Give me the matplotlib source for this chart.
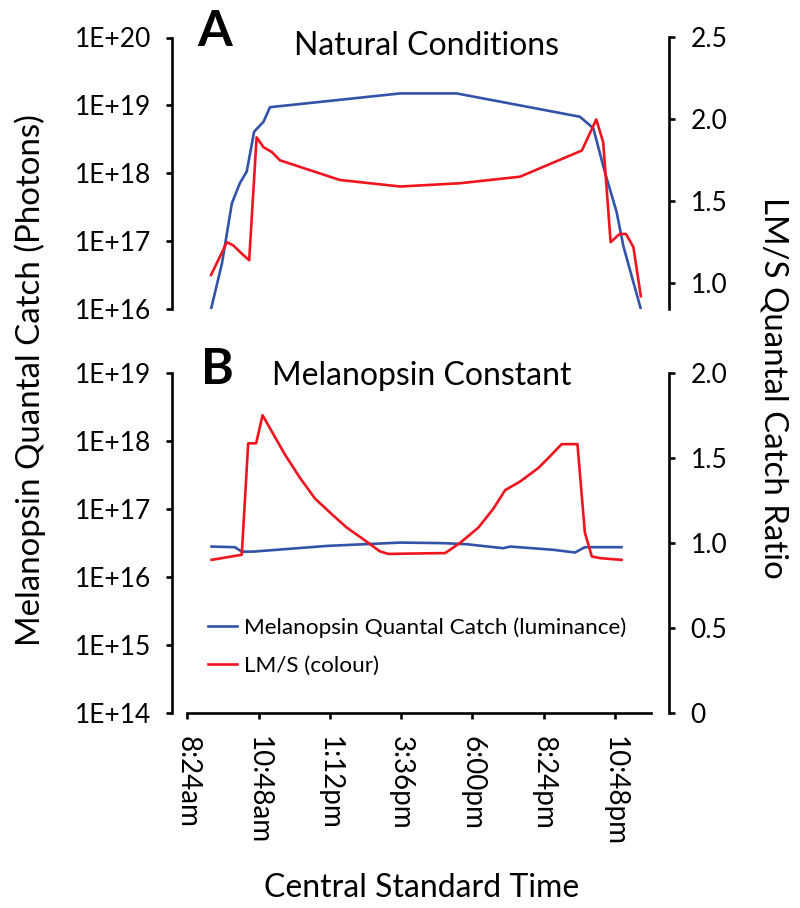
import matplotlib
matplotlib.use('Agg')
import matplotlib.pyplot as plt
from matplotlib.ticker import FixedLocator, NullLocator, NullFormatter

plt.rcParams['font.family'] = ['Lato', 'DejaVu Sans']

# ---------------- data (time in minutes after midnight) ----------------
a_blue_t = [552, 574, 594, 610, 624, 639, 658, 671, 934, 1048, 1297, 1324, 1348, 1371, 1385, 1420]
a_blue_v = [1.0e16, 4.7e16, 3.6e17, 7.1e17, 1.06e18, 4.1e18, 5.75e18, 9.4e18, 1.5e19, 1.5e19,
            6.8e18, 4.6e18, 1.0e18, 2.7e17, 8.3e16, 1.0e16]
a_red_t = [552, 584, 597, 614, 629, 644, 658, 675, 691, 812, 934, 1055, 1176, 1301, 1330, 1344,
           1359, 1377, 1390, 1405, 1420]
a_red_v = [1.05, 1.25, 1.23, 1.18, 1.14, 1.89, 1.83, 1.80, 1.75, 1.63, 1.59, 1.61, 1.65, 1.81,
           2.00, 1.86, 1.25, 1.30, 1.30, 1.22, 0.92]

b_blue_t = [553, 600, 614, 637, 786, 934, 1021, 1068, 1142, 1156, 1243, 1287, 1307, 1381]
b_blue_v = [2.79e16, 2.73e16, 2.35e16, 2.35e16, 2.85e16, 3.19e16, 3.13e16, 3.02e16, 2.64e16,
            2.79e16, 2.5e16, 2.28e16, 2.73e16, 2.73e16]
b_red_t = [553, 614, 627, 643, 656, 701, 732, 762, 799, 826, 860, 893, 910, 1025, 1055, 1092,
           1122, 1146, 1176, 1213, 1237, 1260, 1292, 1307, 1321, 1338, 1381]
b_red_v = [0.90, 0.93, 1.585, 1.585, 1.75, 1.52, 1.38, 1.26, 1.16, 1.09, 1.02, 0.95, 0.935, 0.94,
           1.00, 1.09, 1.20, 1.31, 1.36, 1.44, 1.51, 1.58, 1.58, 1.06, 0.92, 0.91, 0.90]

x_ticks = [504, 648, 792, 936, 1080, 1224, 1368]
x_labels = ['8:24am', '10:48am', '1:12pm', '3:36pm', '6:00pm', '8:24pm', '10:48pm']

a_left_ticks = [1e16, 1e17, 1e18, 1e19, 1e20]
a_left_labels = ['1E+16', '1E+17', '1E+18', '1E+19', '1E+20']
a_right_ticks = [1.0, 1.5, 2.0, 2.5]
a_right_labels = ['1.0', '1.5', '2.0', '2.5']
b_left_ticks = [1e14, 1e15, 1e16, 1e17, 1e18, 1e19]
b_left_labels = ['1E+14', '1E+15', '1E+16', '1E+17', '1E+18', '1E+19']
b_right_ticks = [0, 0.5, 1.0, 1.5, 2.0]
b_right_labels = ['0', '0.5', '1.0', '1.5', '2.0']

series_names = ['Melanopsin Quantal Catch (luminance)', 'LM/S (colour)']

# ---------------- styling ----------------
W, H = 800, 908
BLUE = '#3353AA'
RED = '#F0141E'
LW = 1.9
SPW = 1.9
TICK_FS = 19

fig = plt.figure(figsize=(W / 100, H / 100), dpi=100)


def px_rect(l, t, r, b):
    return [l / W, 1 - b / H, (r - l) / W, (b - t) / H]


def style(ax, ax2, show_x):
    for s in ['top', 'right']:
        ax.spines[s].set_visible(False)
    for s in ['top', 'left', 'bottom']:
        ax2.spines[s].set_visible(False)
    ax.spines['left'].set_linewidth(SPW)
    ax2.spines['right'].set_linewidth(SPW)
    ax.tick_params(axis='y', which='major', direction='out', length=4.5, width=SPW,
                   labelsize=TICK_FS, pad=11)
    ax.tick_params(axis='y', which='minor', left=False)
    ax2.tick_params(axis='y', which='major', direction='out', length=4.5, width=SPW,
                    labelsize=TICK_FS, pad=11)
    ax.set_xlim(473.7, 1476.9)
    if show_x:
        ax.spines['bottom'].set_linewidth(SPW)
        ax.spines['bottom'].set_bounds(504, 1440)
        ax.xaxis.set_major_locator(FixedLocator(x_ticks))
        ax.set_xticklabels(x_labels, rotation=-90, ha='center', va='top')
        ax.tick_params(axis='x', direction='out', length=4.5, width=SPW,
                       labelsize=20, pad=12)
    else:
        ax.spines['bottom'].set_visible(False)
        ax.xaxis.set_major_locator(NullLocator())
    ax.patch.set_visible(False)


# ---------------- panel A ----------------
axA = fig.add_axes(px_rect(172.3, 37.5, 669, 309))
axA.set_yscale('log')
axA.set_ylim(1e16, 1e20)
axA2 = axA.twinx()
axA2.set_ylim(0.842, 2.5)
axA.plot(a_blue_t, a_blue_v, color=BLUE, lw=LW, solid_joinstyle='round')
axA2.plot(a_red_t, a_red_v, color=RED, lw=LW, solid_joinstyle='round')
axA.yaxis.set_major_locator(FixedLocator(a_left_ticks))
axA.yaxis.set_minor_locator(NullLocator())
axA.yaxis.set_minor_formatter(NullFormatter())
axA.set_yticklabels(a_left_labels)
axA2.yaxis.set_major_locator(FixedLocator(a_right_ticks))
axA2.set_yticklabels(a_right_labels)
style(axA, axA2, False)

# ---------------- panel B ----------------
axB = fig.add_axes(px_rect(172.3, 372.7, 669, 713))
axB.set_yscale('log')
axB.set_ylim(1e14, 1e19)
axB2 = axB.twinx()
axB2.set_ylim(0, 2.0)
lb, = axB.plot(b_blue_t, b_blue_v, color=BLUE, lw=LW, solid_joinstyle='round',
               label=series_names[0])
lr, = axB2.plot(b_red_t, b_red_v, color=RED, lw=LW, solid_joinstyle='round',
                label=series_names[1])
axB.yaxis.set_major_locator(FixedLocator(b_left_ticks))
axB.yaxis.set_minor_locator(NullLocator())
axB.yaxis.set_minor_formatter(NullFormatter())
axB.set_yticklabels(b_left_labels)
axB2.yaxis.set_major_locator(FixedLocator(b_right_ticks))
axB2.set_yticklabels(b_right_labels)
style(axB, axB2, True)

leg = axB2.legend(handles=[lb, lr], loc='center left',
                  bbox_to_anchor=(208 / W, 1 - 646.5 / H), bbox_transform=fig.transFigure,
                  frameon=False, fontsize=16.2, handlelength=1.3, handletextpad=0.3,
                  labelspacing=0.78, borderpad=0, borderaxespad=0)

# ---------------- texts ----------------
fig.text(197 / W, 1 - 46 / H, 'A', fontsize=36, fontweight='bold', ha='left', va='baseline')
fig.text(426 / W, 1 - 55 / H, 'Natural Conditions', fontsize=23, ha='center', va='baseline')
fig.text(201 / W, 1 - 384 / H, 'B', fontsize=36, fontweight='bold', ha='left', va='baseline')
fig.text(422 / W, 1 - 385 / H, 'Melanopsin Constant', fontsize=23, ha='center', va='baseline')
fig.text(422 / W, 1 - 897 / H, 'Central Standard Time', fontsize=23, ha='center', va='baseline')
fig.text(30 / W, 1 - 380 / H, 'Melanopsin Quantal Catch (Photons)', fontsize=23.75,
         rotation=90, ha='center', va='center')
fig.text(774 / W, 1 - 388 / H, 'LM/S Quantal Catch Ratio', fontsize=23.75,
         rotation=-90, ha='center', va='center')

fig.savefig('out.png', dpi=100)
